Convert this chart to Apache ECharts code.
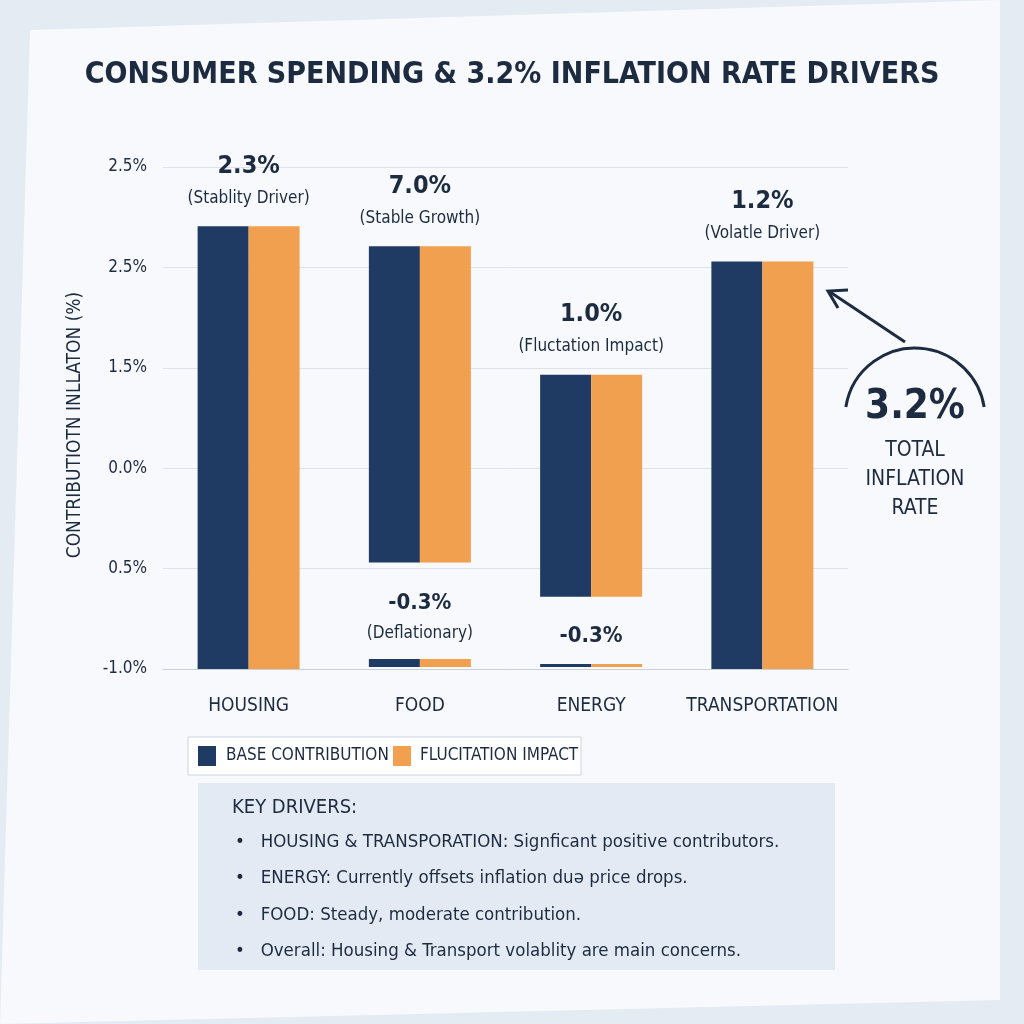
<!DOCTYPE html>
<html><head><meta charset="utf-8">
<script src="https://cdn.jsdelivr.net/npm/echarts@6/dist/echarts.min.js"></script>
<style>html,body{margin:0;padding:0;}#c{width:1024px;height:1024px;}</style>
</head><body><div id="c"></div>
<script>
// categories and tick labels as printed in the picture
var categories = ['HOUSING', 'FOOD', 'ENERGY', 'TRANSPORTATION'];
var tickLabels = ['-1.0%', '0.5%', '0.0%', '1.5%', '2.5%', '2.5%'];
// bar extents in axis units (one unit = one gridline step)
var mainStart = [0, 1.06, 0.72, 0];
var mainEnd = [4.41, 4.21, 2.93, 4.06];
var lowStart = [0, 0.02, 0.02, 0];
var lowEnd = [0, 0.10, 0.05, 0];
var topValue = ['2.3%', '7.0%', '1.0%', '1.2%'];
var topNote = ['(Stablity Driver)', '(Stable Growth)', '(Fluctation Impact)', '(Volatle Driver)'];
var lowValue = ['', '-0.3%', '-0.3%', ''];
var lowNote = ['', '(Deflationary)', '', ''];
var seriesNames = ['BASE CONTRIBUTION', 'FLUCITATION IMPACT'];
var seriesColors = ['#1f3a63', '#f0a04e'];

var font = '"DejaVu Sans Condensed", "Liberation Sans Narrow", sans-serif';
var myChart = echarts.init(document.getElementById('c'));

var series = [];
seriesColors.forEach(function (col, k) {
    var st = 's' + k;
    var helper1 = lowStart.slice();
    var low = lowEnd.map(function (v, i) { return +(v - lowStart[i]).toFixed(3); });
    var gap = mainStart.map(function (v, i) { return +(v - lowEnd[i]).toFixed(3); });
    var main = mainEnd.map(function (v, i) { return +(v - mainStart[i]).toFixed(3); });
    var clear = { color: 'transparent' };
    series.push({ type: 'bar', stack: st, data: helper1, itemStyle: clear, barWidth: 51, barGap: '0%', silent: true });
    series.push({
        type: 'bar', stack: st, name: seriesNames[k], data: low, itemStyle: { color: col }, barWidth: 51,
        label: k === 0 ? {
            show: true, position: 'top', offset: [25.5, -6], fontFamily: font, color: '#1d2b40',
            formatter: function (p) {
                var i = p.dataIndex; if (!lowValue[i]) return '';
                return '{v|' + lowValue[i] + '}' + (lowNote[i] ? '\n{n|' + lowNote[i] + '}' : '');
            },
            rich: { v: { fontSize: 22, fontWeight: 'bold', lineHeight: 34, fontFamily: font, color: '#1d2b40' },
                    n: { fontSize: 17, lineHeight: 28, fontFamily: font, color: '#1d2b40' } }
        } : { show: false }
    });
    series.push({ type: 'bar', stack: st, data: gap, itemStyle: clear, barWidth: 51, silent: true });
    series.push({
        type: 'bar', stack: st, data: main, itemStyle: { color: col }, barWidth: 51,
        label: k === 0 ? {
            show: true, position: 'top', offset: [25.5, -10], fontFamily: font, color: '#1d2b40',
            formatter: function (p) { return '{v|' + topValue[p.dataIndex] + '}\n{n|' + topNote[p.dataIndex] + '}'; },
            rich: { v: { fontSize: 25, fontWeight: 'bold', lineHeight: 38, fontFamily: font, color: '#1d2b40' },
                    n: { fontSize: 17, lineHeight: 26, fontFamily: font, color: '#1d2b40' } }
        } : { show: false }
    });
});

var bullets = [
    'HOUSING & TRANSPORATION: Signficant positive contributors.',
    'ENERGY: Currently offsets inflation du\u0259 price drops.',
    'FOOD: Steady, moderate contribution.',
    'Overall: Housing & Transport volablity are main concerns.'
];
var g = [
    { type: 'polygon', shape: { points: [[30, 30], [1000, 0], [1000, 1000], [0, 1024]] }, style: { fill: '#f7f9fc' }, z: -10 },
    { type: 'text', left: 'center', top: 60, style: { text: 'CONSUMER SPENDING & 3.2% INFLATION RATE DRIVERS', font: 'bold 30px ' + font, fill: '#1d2b40' } },
    { type: 'text', x: 75, y: 425, rotation: Math.PI / 2, style: { text: 'CONTRIBUTIOTN INLLATON (%)', font: '19px ' + font, fill: '#1d2b40', align: 'center', verticalAlign: 'middle' } },
    // legend box
    { type: 'rect', shape: { x: 188, y: 737, width: 393, height: 38 }, style: { fill: '#ffffff', stroke: '#cdd5df', lineWidth: 1 } },
    { type: 'rect', shape: { x: 198, y: 746, width: 18, height: 20 }, style: { fill: seriesColors[0] } },
    { type: 'text', x: 226, y: 756, style: { text: seriesNames[0], font: '17px ' + font, fill: '#1d2b40', verticalAlign: 'middle' } },
    { type: 'rect', shape: { x: 393, y: 746, width: 18, height: 20 }, style: { fill: seriesColors[1] } },
    { type: 'text', x: 420, y: 756, style: { text: seriesNames[1], font: '17px ' + font, fill: '#1d2b40', verticalAlign: 'middle' } },
    // key drivers box
    { type: 'rect', shape: { x: 198, y: 783, width: 637, height: 187 }, style: { fill: 'rgba(214,224,236,0.6)' } },
    { type: 'text', x: 232, y: 808, style: { text: 'KEY DRIVERS:', font: '20px ' + font, fill: '#1d2b40', verticalAlign: 'middle' } },
    // total annotation
    { type: 'arc', shape: { cx: 915, cy: 418, r: 70, startAngle: Math.PI * 1.05, endAngle: Math.PI * 1.95 }, style: { stroke: '#1d2b40', lineWidth: 3, fill: 'none' } },
    { type: 'line', shape: { x1: 905, y1: 342, x2: 830, y2: 292 }, style: { stroke: '#1d2b40', lineWidth: 3 } },
    { type: 'polyline', shape: { points: [[848, 290], [828, 291], [838, 308]] }, style: { stroke: '#1d2b40', lineWidth: 3, fill: 'none' } },
    { type: 'text', x: 915, y: 408, style: { text: '3.2%', font: 'bold 40px ' + font, fill: '#1d2b40', align: 'center', verticalAlign: 'middle' } },
    { type: 'text', x: 915, y: 480, style: { text: 'TOTAL\nINFLATION\nRATE', font: '21px ' + font, lineHeight: 29, fill: '#1d2b40', align: 'center', verticalAlign: 'middle' } }
];
bullets.forEach(function (b, i) {
    g.push({ type: 'text', x: 235, y: 842 + i * 36.5, style: { text: '\u2022   ' + b, font: '18.5px ' + font, fill: '#1d2b40', verticalAlign: 'middle' } });
});

option = {
    backgroundColor: '#e4ebf3',
    animation: false,
    grid: { left: 163, right: 176, top: 167, bottom: 355 },
    xAxis: {
        type: 'category', data: categories,
        axisLine: { lineStyle: { color: '#c9cfd8' } }, axisTick: { show: false },
        axisLabel: { interval: 0, margin: 28, fontSize: 19, fontFamily: font, color: '#1d2b40' }
    },
    yAxis: {
        type: 'value', min: 0, max: 5, interval: 1,
        axisLabel: { margin: 16, fontSize: 17, fontFamily: font, color: '#1d2b40',
            formatter: function (v) { return tickLabels[Math.round(v)]; } },
        splitLine: { lineStyle: { color: '#dde2e8' } }
    },
    series: series,
    graphic: g
};
myChart.setOption(option, true);
</script></body></html>
